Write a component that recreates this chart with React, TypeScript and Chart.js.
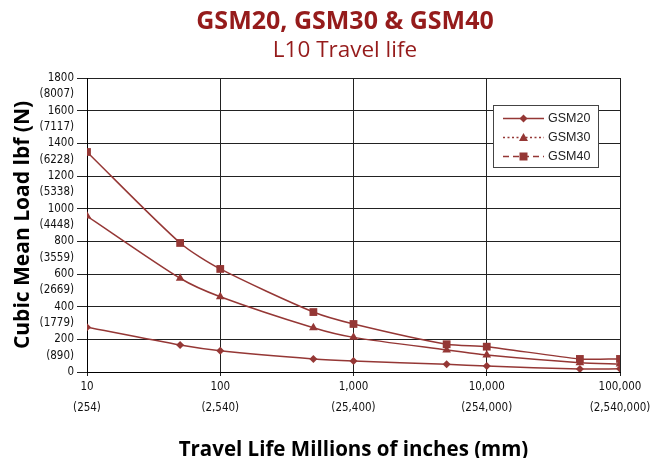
import React, { useEffect, useRef } from 'react';
import { Chart, registerables } from 'chart.js';

Chart.register(...registerables);

const travelLife = [10, 50, 100, 500, 1000, 5000, 10000, 50000, 100000];
const gsm20 = [274, 165, 130, 80, 67, 47, 37, 18, 20];
const gsm30 = [955, 574, 461, 271, 212, 135, 104, 57, 49];
const gsm40 = [1347, 790, 631, 367, 294, 170, 155, 80, 80];

const xTickValues = [10, 100, 1000, 10000, 100000];
const xTickInches = ['10', '100', '1,000', '10,000', '100,000'];
const xTickMm = ['(254)', '(2,540)', '(25,400)', '(254,000)', '(2,540,000)'];

const yTickLbf = [0, 200, 400, 600, 800, 1000, 1200, 1400, 1600, 1800];
const yTickNewton = ['(890)', '(1779)', '(2669)', '(3559)', '(4448)', '(5338)', '(6228)', '(7117)', '(8007)'];

const seriesNames = ['GSM20', 'GSM30', 'GSM40'];
const seriesValues = [gsm20, gsm30, gsm40];
const seriesMarkers = ['rectRot', 'triangle', 'rect'];
const seriesRadius = [4, 5, 5.5];
const seriesLegendDash = [[], [2, 2.5], [6, 4]];

const LINE = '#953735';
const TITLE = '#951b1b';
const NARROW = '"DejaVu Sans Condensed", "DejaVu Sans", sans-serif';

function drawMarker(ctx: CanvasRenderingContext2D, style: string, x: number, y: number) {
  ctx.beginPath();
  if (style === 'rectRot') {
    const r = 4;
    ctx.moveTo(x, y - r);
    ctx.lineTo(x + r, y);
    ctx.lineTo(x, y + r);
    ctx.lineTo(x - r, y);
  } else if (style === 'triangle') {
    const r = 4.5;
    ctx.moveTo(x, y - r);
    ctx.lineTo(x + r, y + r * 0.75);
    ctx.lineTo(x - r, y + r * 0.75);
  } else {
    const s = 4;
    ctx.rect(x - s, y - s, 2 * s, 2 * s);
  }
  ctx.closePath();
  ctx.fill();
}

const titleShift = {
  id: 'titleShift',
  afterLayout(chart: any) {
    chart.boxes.forEach((b: any) => {
      if (!b.axis && b.position === 'top') {
        b.left = 35;
        b.right = chart.width;
        b.width = b.right - b.left;
      }
    });
  },
};

const boxLegend = {
  id: 'boxLegend',
  afterDraw(chart: any) {
    const { ctx, chartArea } = chart;
    const w = 105;
    const h = 62;
    const left = chartArea.right - 22 - w;
    const top = chartArea.top + 27;
    ctx.save();
    ctx.fillStyle = '#ffffff';
    ctx.fillRect(left, top, w, h);
    ctx.strokeStyle = '#444444';
    ctx.lineWidth = 1;
    ctx.strokeRect(left + 0.5, top + 0.5, w, h);
    chart.data.datasets.forEach((ds: any, i: number) => {
      const y = top + 13.5 + i * 19;
      ctx.strokeStyle = LINE;
      ctx.fillStyle = LINE;
      ctx.lineWidth = 1.5;
      ctx.setLineDash(ds.legendDash || []);
      ctx.beginPath();
      ctx.moveTo(left + 10, y);
      ctx.lineTo(left + 51, y);
      ctx.stroke();
      ctx.setLineDash([]);
      drawMarker(ctx, ds.pointStyle, left + 30.5, y);
      ctx.fillStyle = '#222222';
      ctx.font = '12.5px "Liberation Sans", Arial, sans-serif';
      ctx.textBaseline = 'middle';
      ctx.textAlign = 'left';
      ctx.fillText(ds.label, left + 55, y + 0.5);
    });
    ctx.restore();
  },
};

export default function App() {
  const ref = useRef<HTMLCanvasElement | null>(null);

  useEffect(() => {
    document.body.style.margin = '0';
    const canvas = ref.current;
    if (!canvas) return;
    const datasets = seriesNames.map((name, i) => ({
      label: name,
      data: travelLife.map((x, j) => ({ x, y: seriesValues[i][j] })),
      borderColor: LINE,
      backgroundColor: LINE,
      borderWidth: 1.5,
      pointStyle: seriesMarkers[i],
      pointRadius: seriesRadius[i],
      pointBackgroundColor: LINE,
      pointBorderColor: LINE,
      pointBorderWidth: 0,
      tension: 0.25,
      legendDash: seriesLegendDash[i],
    }));

    const chart = new Chart(canvas, {
      type: 'line',
      data: { datasets } as any,
      plugins: [boxLegend, titleShift],
      options: {
        animation: false,
        responsive: false,
        layout: { padding: { left: 0, right: 35, top: 0, bottom: 0 } },
        plugins: {
          legend: { display: false },
          tooltip: { enabled: false },
          title: {
            display: true,
            text: 'GSM20, GSM30 & GSM40',
            color: TITLE,
            font: { family: '"Open Sans", sans-serif', size: 25, weight: 'bold', lineHeight: 1.2 },
            padding: { top: 7, bottom: 0 },
          },
          subtitle: {
            display: true,
            text: 'L10 Travel life',
            color: TITLE,
            font: { family: '"Open Sans", sans-serif', size: 22.5, weight: 'normal', lineHeight: 1.2 },
            padding: { top: 0, bottom: 14 },
          },
        },
        scales: {
          x: {
            type: 'logarithmic',
            min: 10,
            max: 100000,
            afterFit: (scale: any) => {
              scale.height = 86;
            },
            afterBuildTicks: (scale: any) => {
              scale.ticks = xTickValues.map((v) => ({ value: v }));
            },
            border: { color: '#000000', width: 1 },
            grid: { color: '#222222', lineWidth: 1, tickLength: 4, drawTicks: true },
            ticks: {
              autoSkip: false,
              maxRotation: 0,
              padding: 0,
              color: '#111111',
              font: { family: NARROW, size: 11.5, lineHeight: 1.85 },
              callback: (value: any) => {
                const i = xTickValues.indexOf(Number(value));
                return i >= 0 ? [xTickInches[i], xTickMm[i]] : '';
              },
            },
            title: {
              display: true,
              text: 'Travel Life Millions of inches (mm)',
              color: '#000000',
              font: { family: '"Open Sans", sans-serif', size: 20.5, weight: 'bold', lineHeight: 0.8 },
              padding: 0,
            },
          },
          y: {
            type: 'linear',
            min: 0,
            max: 1800,
            afterFit: (scale: any) => {
              scale.width = 87;
            },
            afterBuildTicks: (scale: any) => {
              const ticks: any[] = [];
              yTickLbf.forEach((v, i) => {
                ticks.push({ value: v });
                if (i < yTickNewton.length) ticks.push({ value: v + 100 });
              });
              scale.ticks = ticks;
            },
            border: { color: '#000000', width: 1 },
            grid: {
              lineWidth: 1,
              tickLength: 10,
              color: (c: any) => (c.tick && c.tick.value % 200 === 0 ? '#222222' : 'rgba(0,0,0,0)'),
              tickColor: (c: any) => (c.tick && c.tick.value % 200 === 0 ? '#222222' : 'rgba(0,0,0,0)'),
            },
            ticks: {
              autoSkip: false,
              padding: 3,
              color: '#111111',
              font: { family: NARROW, size: 11.5 },
              callback: (value: any) => {
                const v = Number(value);
                const i = yTickLbf.indexOf(v);
                if (i >= 0) return String(yTickLbf[i]);
                return yTickNewton[Math.round((v - 100) / 200)];
              },
            },
            title: {
              display: true,
              text: 'Cubic Mean Load lbf (N)',
              color: '#000000',
              font: { family: '"Open Sans", sans-serif', size: 21, weight: 'bold', lineHeight: 1.2 },
              padding: { top: 10, bottom: 0 },
            },
          },
        },
      } as any,
    });
    return () => chart.destroy();
  }, []);

  return <canvas ref={ref} width={655} height={458} style={{ display: 'block' }} />;
}
